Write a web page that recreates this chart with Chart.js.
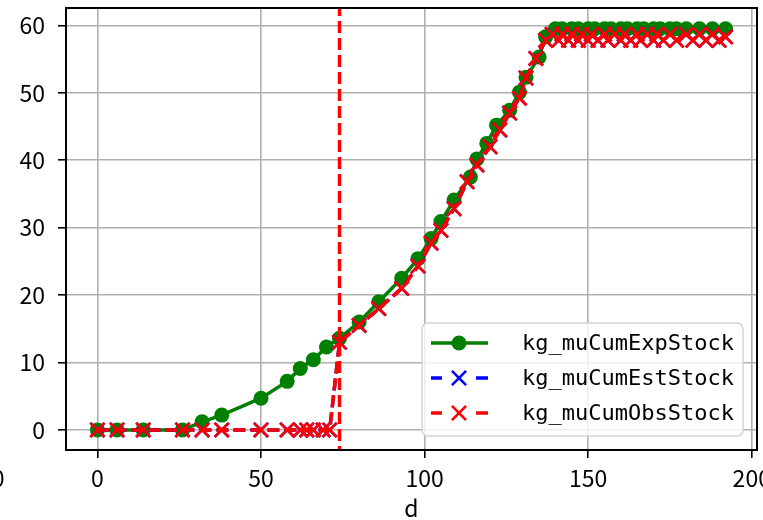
<!DOCTYPE html>
<html><head><meta charset="utf-8">
<script src="https://cdn.jsdelivr.net/npm/chart.js@4/dist/chart.umd.min.js"></script>
<style>html,body{margin:0;padding:0;background:#fff;overflow:hidden}#wrap{width:763px;height:520px;position:relative}canvas{display:block}</style>
</head><body><div id="wrap"><canvas id="c" width="763" height="520"></canvas></div>
<script>
// ---- data ----
const expDays   = [0, 6, 14, 26, 32, 38, 50, 58, 62, 66, 70, 74, 80, 86, 93, 98, 102, 105, 109, 114, 116, 119, 122, 126, 129, 131, 135, 137,
                   140, 142, 145, 147, 150, 152, 155, 157, 160, 162, 165, 167, 170, 172, 175, 177, 180, 184, 188, 192];
const expValues = [0, 0, 0, 0, 1.2, 2.2, 4.7, 7.2, 9.1, 10.4, 12.3, 13.6, 16.0, 19.0, 22.5, 25.4, 28.4, 30.9, 34.1, 37.5, 40.2, 42.5, 45.2, 47.4, 50.1, 52.3, 55.3, 58.3,
                   59.5, 59.5, 59.5, 59.5, 59.5, 59.5, 59.5, 59.5, 59.5, 59.5, 59.5, 59.5, 59.5, 59.5, 59.5, 59.5, 59.5, 59.5, 59.5, 59.5];
const obsDays   = [0, 6, 14, 26, 32, 38, 50, 58, 62, 64, 66, 69, 71, 74, 80, 86, 93, 98, 102, 105, 109, 113, 116, 120, 123, 126, 129, 131, 134, 137,
                   139, 141, 142, 144, 145, 147, 148, 150, 151, 153, 155, 156, 158, 160, 161, 163, 165, 166, 168, 170, 171, 173, 175, 177, 180, 182, 184, 186, 188, 190, 192];
const obsValues = [0, 0, 0, 0, 0, 0, 0, 0, 0, 0, 0, 0, 0, 13.0, 15.5, 18.0, 21.0, 24.3, 27.7, 29.6, 32.8, 36.8, 39.3, 42.0, 44.5, 47.0, 49.2, 52.2, 55.1, 57.8,
                   58.7, 57.8, 58.7, 57.8, 58.7, 57.8, 58.7, 57.8, 58.7, 57.8, 58.7, 57.8, 58.7, 57.8, 58.7, 57.8, 58.7, 57.8, 58.7, 57.8, 58.7, 57.8, 58.7, 57.8, 58.7, 57.8, 58.7, 57.8, 58.7, 57.8, 58.3];
const estDays   = obsDays;
const estValues = obsValues;
const markerDay = 74;
const xTicks = [0, 50, 100, 150, 200];
const yTicks = [0, 10, 20, 30, 40, 50, 60];
const seriesLabels = ['kg_muCumExpStock', 'kg_muCumEstStock', 'kg_muCumObsStock'];
const xTitle = 'd';
// --------------------------------------

const pts = (xs, ys) => xs.map((x, i) => ({x: x, y: ys[i]}));
const FAMILY = '"Noto Sans CJK JP", "DejaVu Sans", sans-serif';
const tickFont = {family: FAMILY, size: 23, lineHeight: 1.0};
const DASH = [12, 5];
const LW = 3.5;

const zeroPad = s => { s.paddingLeft = 0; s.paddingRight = 0; s.paddingTop = 0; s.paddingBottom = 0; };

const frameAndLegend = {
  id: 'frameAndLegend',
  afterDatasetsDraw(chart) {
    const {ctx, chartArea: a} = chart;
    ctx.save();
    ctx.strokeStyle = '#000';
    ctx.lineWidth = 2;
    ctx.strokeRect(a.left, a.top, a.right - a.left, a.bottom - a.top);
    ctx.restore();
  },
  afterDraw(chart) {
    const ctx = chart.ctx;
    ctx.save();
    const bx = 422, by = 323, bw = 321, bh = 113;
    ctx.beginPath();
    ctx.roundRect(bx, by, bw, bh, 6);
    ctx.fillStyle = 'rgba(255,255,255,0.8)';
    ctx.fill();
    ctx.strokeStyle = '#d4d4d4';
    ctx.lineWidth = 1.5;
    ctx.stroke();
    const items = chart.data.datasets.filter(d => !d.hideInLegend);
    items.forEach((ds, i) => {
      const y = 343 + i * 35;
      ctx.save();
      ctx.strokeStyle = ds.borderColor;
      ctx.lineWidth = ds.borderWidth;
      ctx.beginPath();
      if (ds.borderDash && ds.borderDash.length) {
        ctx.moveTo(431, y); ctx.lineTo(442, y);
        ctx.moveTo(476, y); ctx.lineTo(488, y);
      } else {
        ctx.moveTo(431, y); ctx.lineTo(488, y);
      }
      ctx.stroke();
      ctx.fillStyle = ds.pointBackgroundColor;
      ctx.strokeStyle = ds.pointBorderColor;
      ctx.lineWidth = ds.pointBorderWidth;
      Chart.helpers.drawPoint(ctx, {
        pointStyle: ds.pointStyle, radius: ds.pointRadius, borderWidth: ds.pointBorderWidth, rotation: 0
      }, 459, y);
      ctx.restore();
      ctx.fillStyle = '#000';
      ctx.font = '22px "DejaVu Sans Mono", monospace';
      ctx.textBaseline = 'middle';
      ctx.textAlign = 'left';
      ctx.fillText(ds.label, 522, y + 1);
    });
    // tick label clipped by the left edge of the figure
    ctx.fillStyle = '#000';
    ctx.font = '23px ' + FAMILY;
    ctx.textAlign = 'right';
    ctx.textBaseline = 'middle';
    ctx.fillText('0', 4.5, 478);
    ctx.restore();
  }
};

new Chart(document.getElementById('c'), {
  type: 'line',
  data: {
    datasets: [
      {label: seriesLabels[0], data: pts(expDays, expValues), borderColor: '#008000', backgroundColor: '#008000',
       borderWidth: LW, pointStyle: 'circle', pointRadius: 7.5, pointBorderWidth: 0,
       pointBackgroundColor: '#008000', pointBorderColor: '#008000', order: 4},
      {label: seriesLabels[1], data: pts(estDays, estValues), borderColor: '#0000ff', backgroundColor: '#0000ff',
       borderWidth: LW, borderDash: DASH, pointStyle: 'crossRot', pointRadius: 10, pointBorderWidth: 2.6,
       pointBackgroundColor: '#0000ff', pointBorderColor: '#0000ff', order: 3},
      {label: seriesLabels[2], data: pts(obsDays, obsValues), borderColor: '#ff0000', backgroundColor: '#ff0000',
       borderWidth: LW, borderDash: DASH, pointStyle: 'crossRot', pointRadius: 10, pointBorderWidth: 2.6,
       pointBackgroundColor: '#ff0000', pointBorderColor: '#ff0000', order: 2},
      {label: 'marker', hideInLegend: true, data: [{x: markerDay, y: -100}, {x: markerDay, y: 200}],
       borderColor: '#ff0000', borderWidth: LW, borderDash: DASH, pointRadius: 0, order: 1}
    ]
  },
  options: {
    responsive: false,
    animation: false,
    devicePixelRatio: 1,
    layout: {autoPadding: false, padding: {top: 8, right: 6, left: 0, bottom: 0}},
    plugins: {legend: {display: false}, tooltip: {enabled: false}},
    scales: {
      x: {
        type: 'linear', min: -9.6, max: 201.6,
        afterBuildTicks: s => { s.ticks = xTicks.map(v => ({value: v})); },
        afterFit: s => { s.height = 70; zeroPad(s); },
        ticks: {font: tickFont, color: '#000', padding: 9, maxRotation: 0, autoSkip: false},
        grid: {color: '#b0b0b0', lineWidth: 1.6, tickColor: '#000', tickLength: 8, tickWidth: 1.6},
        border: {display: true, color: '#000', width: 2},
        title: {display: true, text: xTitle, font: tickFont, color: '#000', padding: {top: 0, bottom: 0}}
      },
      y: {
        type: 'linear', min: -2.98, max: 62.58,
        afterBuildTicks: s => { s.ticks = yTicks.map(v => ({value: v})); },
        afterFit: s => { s.width = 66; zeroPad(s); },
        ticks: {font: tickFont, color: '#000', padding: 13, autoSkip: false},
        grid: {color: '#b0b0b0', lineWidth: 1.6, tickColor: '#000', tickLength: 8, tickWidth: 1.6},
        border: {display: true, color: '#000', width: 2}
      }
    }
  },
  plugins: [frameAndLegend]
});
</script></body></html>
